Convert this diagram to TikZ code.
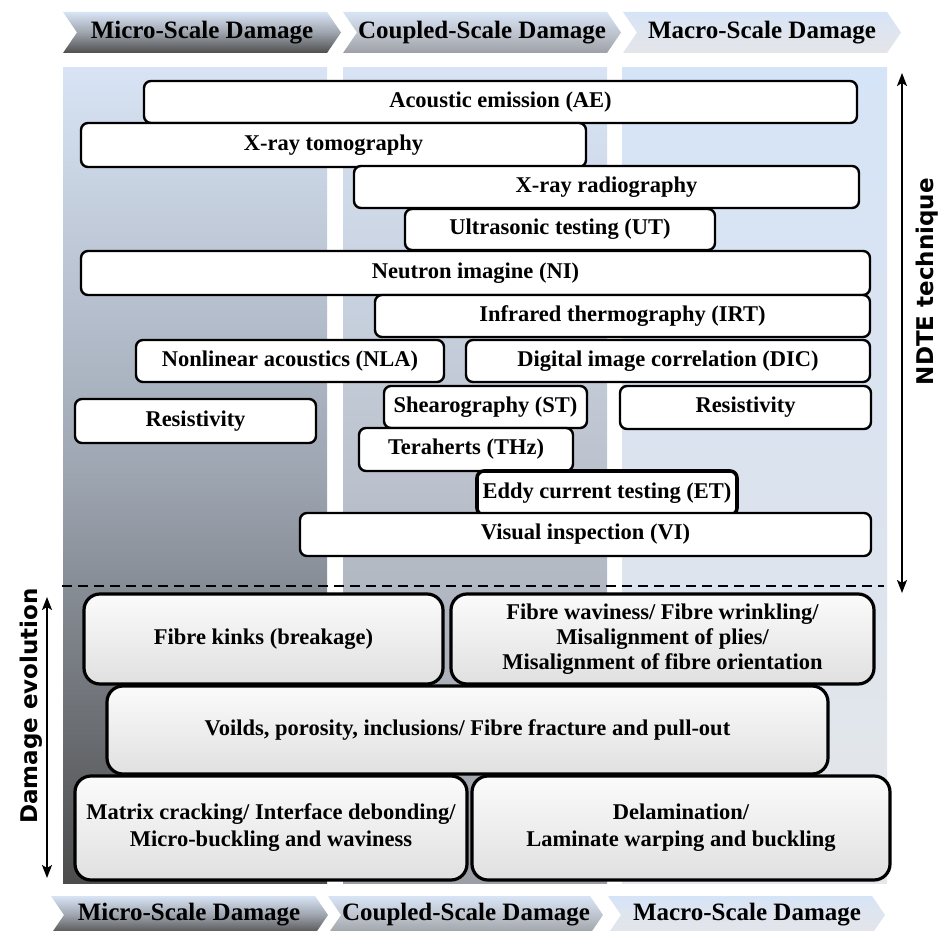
\documentclass[tikz,border=0pt]{standalone}
\usepackage{fontspec}
\setmainfont{Liberation Serif}
\newfontfamily\labelfont{DejaVu Sans}
\usetikzlibrary{arrows.meta}
\definecolor{lblue}{HTML}{D8E4F5}
\definecolor{cOneMid}{HTML}{9DA5B1}
\definecolor{cOneBot}{HTML}{4C4C4C}
\definecolor{cTwoMid}{HTML}{BBC2CD}
\definecolor{cTwoBot}{HTML}{9B9EA4}
\definecolor{cThrTop}{HTML}{D6E4F7}
\definecolor{cThrMid}{HTML}{DBE3EE}
\definecolor{cThrBot}{HTML}{E5E7EA}
\definecolor{hOneMid}{HTML}{9EA4AD}
\definecolor{hOneBot}{HTML}{4E4E4E}
\definecolor{hTwoMid}{HTML}{BFC5CF}
\definecolor{hTwoBot}{HTML}{9DA0A6}
\definecolor{hThrMid}{HTML}{DFE5EE}
\definecolor{hThrBot}{HTML}{E3E5E9}
\definecolor{boxTop}{HTML}{FBFBFB}
\definecolor{boxBot}{HTML}{E0E0E0}
\begin{document}
\begin{tikzpicture}[x=1pt,y=-1pt,
  colone/.style={top color=lblue,bottom color=cOneBot,middle color=cOneMid},
  coltwo/.style={top color=lblue,bottom color=cTwoBot,middle color=cTwoMid},
  colthr/.style={top color=cThrTop,bottom color=cThrBot,middle color=cThrMid},
  chevone/.style={top color=lblue,bottom color=hOneBot,middle color=hOneMid},
  chevtwo/.style={top color=lblue,bottom color=hTwoBot,middle color=hTwoMid},
  chevthr/.style={top color=cThrTop,bottom color=hThrBot,middle color=hThrMid},
  hdr/.style={inner sep=0pt,font=\fontsize{25}{28}\selectfont\bfseries},
  tbox/.style={draw=black,line width=2.4pt,rounded corners=7pt,fill=white,inner sep=0pt,
    font=\fontsize{22.5}{27}\selectfont\bfseries},
  bbox/.style={draw=black,line width=3.2pt,rounded corners=16pt,top color=boxTop,bottom color=boxBot,
    inner sep=0pt,align=center,font=\fontsize{22.5}{27}\selectfont\bfseries},
  sidelabel/.style={inner sep=0pt,font=\fontsize{23}{27}\labelfont\bfseries},
  dblarrow/.style={line width=1.6pt,{Stealth[length=13pt,width=10pt,inset=3pt]}-{Stealth[length=13pt,width=10pt,inset=3pt]}}
]
\useasboundingbox (0,0) rectangle (940,931);
\fill[white] (0,0) rectangle (940,931);

% background columns
\shade[colone] (63,68) rectangle (327,883);
\shade[coltwo] (343,68) rectangle (607,883);
\shade[colthr] (622,68) rectangle (887,883);

% top chevrons
\shade[chevone] (63,12) -- (327,12) -- (341,32.5) -- (327,53) -- (63,53) -- (77,32.5) -- cycle;
\shade[chevtwo] (343,12) -- (607,12) -- (621,32.5) -- (607,53) -- (343,53) -- (357,32.5) -- cycle;
\shade[chevthr] (623,12) -- (887,12) -- (901,32.5) -- (887,53) -- (623,53) -- (637,32.5) -- cycle;
\node[hdr] (h1) at (202,33) {Micro-Scale Damage};
\node[hdr] (h2) at (482,33) {Coupled-Scale Damage};
\node[hdr] (h3) at (762,33) {Macro-Scale Damage};

% bottom chevrons
\shade[chevone] (51,896) -- (315,896) -- (328,915) -- (315,934) -- (51,934) -- (64,915) -- cycle;
\shade[chevtwo] (328,896) -- (590,896) -- (603,915) -- (590,934) -- (328,934) -- (341,915) -- cycle;
\shade[chevthr] (608,896) -- (872,896) -- (885,915) -- (872,934) -- (608,934) -- (621,915) -- cycle;
\node[hdr] (f1) at (189,915) {Micro-Scale Damage};
\node[hdr] (f2) at (466,915) {Coupled-Scale Damage};
\node[hdr] (f3) at (747,915) {Macro-Scale Damage};

% NDTE technique boxes
\node[tbox,minimum width=713pt,minimum height=42pt] (ae) at (500.5,102) {Acoustic emission (AE)};
\node[tbox,minimum width=505pt,minimum height=44pt] (xt) at (333.5,145) {X-ray tomography};
\node[tbox,minimum width=505pt,minimum height=42pt] (xr) at (606.5,187) {X-ray radiography};
\node[tbox,minimum width=310pt,minimum height=41pt] (ut) at (560,229.5) {Ultrasonic testing (UT)};
\node[tbox,minimum width=789pt,minimum height=44pt] (ni) at (475.5,273) {Neutron imagine (NI)};
\node[tbox,minimum width=495pt,minimum height=42pt] (irt) at (622.5,316) {Infrared thermography (IRT)};
\node[tbox,minimum width=308pt,minimum height=42pt] (nla) at (290,361) {Nonlinear acoustics (NLA)};
\node[tbox,minimum width=404pt,minimum height=42pt] (dic) at (668,361) {Digital image correlation (DIC)};
\node[tbox,minimum width=241pt,minimum height=44pt] (resl) at (195.5,421) {Resistivity};
\node[tbox,minimum width=203pt,minimum height=42pt] (st) at (485.5,407) {Shearography (ST)};
\node[tbox,minimum width=251pt,minimum height=43pt] (resr) at (745.5,407.5) {Resistivity};
\node[tbox,minimum width=214pt,minimum height=43pt] (thz) at (466,449.5) {Teraherts (THz)};
\node[tbox,line width=3.6pt,minimum width=260pt,minimum height=44pt] (et) at (607,493) {Eddy current testing (ET)};
\node[tbox,minimum width=571pt,minimum height=43pt] (vi) at (585.5,534.5) {Visual inspection (VI)};

% separator
\coordinate (dl1) at (62,586);
\coordinate (dl2) at (884,586);
\draw[line width=2.5pt,dash pattern=on 10pt off 6pt] (dl1) -- (dl2);

% damage evolution boxes
\node[bbox,minimum width=359pt,minimum height=90pt] (fk) at (263.5,639) {Fibre kinks (breakage)};
\node[bbox,minimum width=423pt,minimum height=90pt,font=\fontsize{22.5}{25}\selectfont\bfseries] (fw) at (662.5,639)
  {Fibre waviness/ Fibre wrinkling/\\Misalignment of plies/\\Misalignment of fibre orientation};
\node[bbox,minimum width=721pt,minimum height=88pt] (vo) at (467.5,730) {Voilds, porosity, inclusions/ Fibre fracture and pull-out};
\node[bbox,minimum width=392pt,minimum height=104pt] (mc) at (271,828) {Matrix cracking/ Interface debonding/\\Micro-buckling and waviness};
\node[bbox,minimum width=418pt,minimum height=104pt] (de) at (681,828) {Delamination/\\Laminate warping and buckling};

% side arrows and labels
\coordinate (ra1) at (902,73);
\coordinate (ra2) at (902,593);
\draw[dblarrow] (ra1) -- (ra2);
\node[sidelabel,rotate=90,anchor=base east] (ndte) at (933,178) {NDTE technique};
\coordinate (la1) at (47,597);
\coordinate (la2) at (47,878);
\draw[dblarrow] (la1) -- (la2);
\node[sidelabel,rotate=90,anchor=base] (dev) at (37,706) {Damage evolution};
\end{tikzpicture}
\end{document}
